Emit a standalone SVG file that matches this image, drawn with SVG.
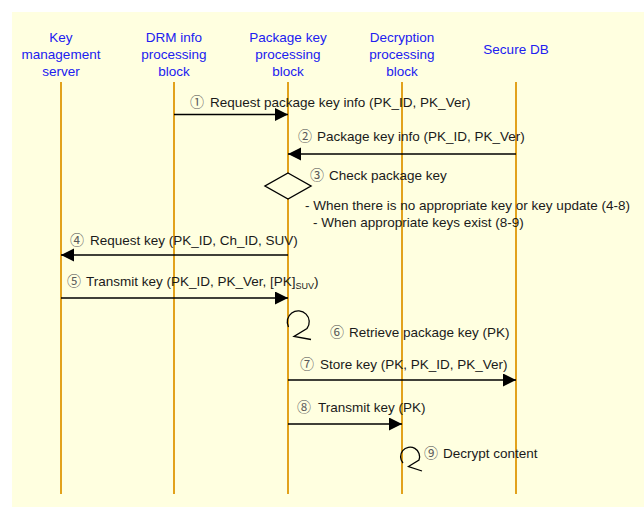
<svg xmlns="http://www.w3.org/2000/svg" width="644" height="507" viewBox="0 0 644 507">
  <style>
    .hdr { font-family: "Liberation Sans", Arial, sans-serif; font-size: 13.5px; fill: #2020F0; text-anchor: middle; }
    .msg { font-family: "Liberation Sans", Arial, sans-serif; font-size: 13.5px; fill: #1a1a1a; }
    .num { font-family: "Noto Sans CJK JP", "DejaVu Sans", sans-serif; font-size: 14px; fill: #5a5a5a; }
    .sub { font-size: 9px; }
    .life { stroke: #E2A21C; stroke-width: 2; fill: none; }
    .arrow { stroke: #000000; stroke-width: 1.3; fill: none; marker-end: url(#head); }
    .loop { stroke: #000000; stroke-width: 1.3; fill: none; }
  </style>
  <defs>
    <marker id="head" markerUnits="userSpaceOnUse" markerWidth="14" markerHeight="14" refX="13" refY="6.5" orient="auto">
      <path d="M0,0 L13,6.5 L0,13 z" fill="#000000"/>
    </marker>
  </defs>

  <!-- background panel -->
  <rect x="12" y="12" width="632" height="495" fill="#FFFFE0"/>

  <!-- participants with lifelines -->
  <g id="key-management-server">
    <text class="hdr" x="61" y="42">Key</text>
    <text class="hdr" x="61" y="59">management</text>
    <text class="hdr" x="61" y="76">server</text>
    <line class="life" x1="61" y1="82" x2="61" y2="494"/>
  </g>
  <g id="drm-info-block">
    <text class="hdr" x="174" y="42">DRM info</text>
    <text class="hdr" x="174" y="59">processing</text>
    <text class="hdr" x="174" y="76">block</text>
    <line class="life" x1="174" y1="82" x2="174" y2="494"/>
  </g>
  <g id="package-key-block">
    <text class="hdr" x="288" y="42">Package key</text>
    <text class="hdr" x="288" y="59">processing</text>
    <text class="hdr" x="288" y="76">block</text>
    <line class="life" x1="288" y1="82" x2="288" y2="494"/>
  </g>
  <g id="decryption-block">
    <text class="hdr" x="402" y="42">Decryption</text>
    <text class="hdr" x="402" y="59">processing</text>
    <text class="hdr" x="402" y="76">block</text>
    <line class="life" x1="402" y1="82" x2="402" y2="494"/>
  </g>
  <g id="secure-db">
    <text class="hdr" x="516" y="54">Secure DB</text>
    <line class="life" x1="516" y1="82" x2="516" y2="494"/>
  </g>

  <!-- check step decision -->
  <g id="check-package-key">
    <path d="M288,173 L311,186 L288,199 L265,186 z" fill="#FFFFE0" stroke="#000000" stroke-width="1.4"/>
  </g>

  <!-- messages -->
  <g id="connectors">
    <line class="arrow" x1="174" y1="114.5" x2="288" y2="114.5"/>
    <line class="arrow" x1="516" y1="154" x2="288" y2="154"/>
    <line class="arrow" x1="288" y1="255" x2="61" y2="255"/>
    <line class="arrow" x1="61" y1="298" x2="288" y2="298"/>
    <path class="loop" d="M288.5,327 A11,11 0 1 1 307,328.5 L294,336.5 L311,339.5"/>
    <line class="arrow" x1="288" y1="380" x2="516" y2="380"/>
    <line class="arrow" x1="288" y1="424" x2="402" y2="424"/>
    <path class="loop" d="M403,463 A9.5,9.5 0 1 1 419,460 L408.5,466.5 L422,471"/>
  </g>

  <!-- labels -->
  <g id="labels">
    <text class="msg" y="107"><tspan class="num" x="190">①</tspan><tspan x="210">Request package key info (PK_ID, PK_Ver)</tspan></text>
    <text class="msg" y="141"><tspan class="num" x="298">②</tspan><tspan x="317">Package key info (PK_ID, PK_Ver)</tspan></text>
    <text class="msg" y="180"><tspan class="num" x="310">③</tspan><tspan x="329">Check package key</tspan></text>
    <text class="msg" x="305" y="210">- When there is no appropriate key or key update (4-8)</text>
    <text class="msg" x="313" y="227">- When appropriate keys exist (8-9)</text>
    <text class="msg" y="245"><tspan class="num" x="70">④</tspan><tspan x="90">Request key (PK_ID, Ch_ID, SUV)</tspan></text>
    <text class="msg" y="286"><tspan class="num" x="67">⑤</tspan><tspan x="86">Transmit key (PK_ID, PK_Ver, [PK]</tspan><tspan class="sub" dy="3">SUV</tspan><tspan dy="-3">)</tspan></text>
    <text class="msg" y="337"><tspan class="num" x="330">⑥</tspan><tspan x="349">Retrieve package key (PK)</tspan></text>
    <text class="msg" y="369"><tspan class="num" x="300">⑦</tspan><tspan x="320">Store key (PK, PK_ID, PK_Ver)</tspan></text>
    <text class="msg" y="412"><tspan class="num" x="297">⑧</tspan><tspan x="318">Transmit key (PK)</tspan></text>
    <text class="msg" y="458"><tspan class="num" x="424">⑨</tspan><tspan x="443">Decrypt content</tspan></text>
  </g>
</svg>
